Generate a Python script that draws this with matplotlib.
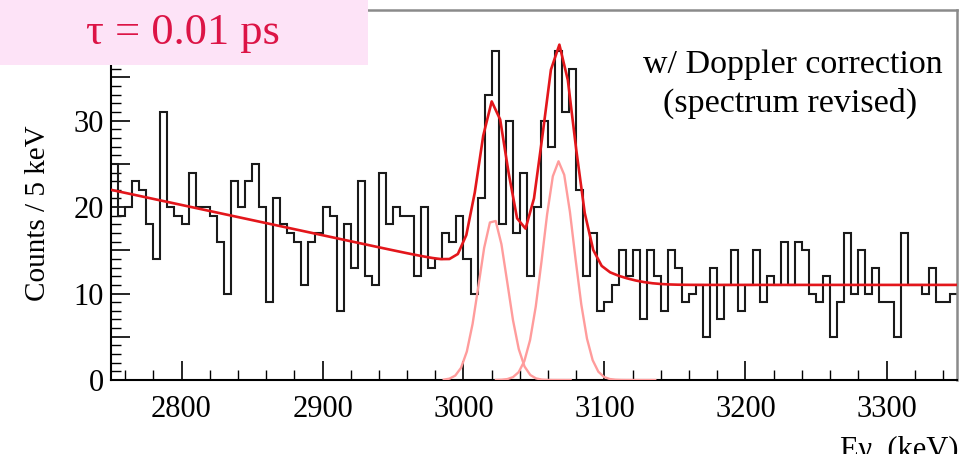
import math
import numpy as np
import matplotlib
matplotlib.use("Agg")
import matplotlib.pyplot as plt
from matplotlib.patches import Rectangle
from matplotlib.ticker import MultipleLocator, FuncFormatter

plt.rcParams['font.family'] = ['Liberation Serif', 'DejaVu Serif']

# ---------------- data ----------------
bin_low = 2750.0
bin_width = 5.0
counts = [25, 19, 20, 23, 22, 18, 14, 31, 20, 19,
          18, 24, 20, 20, 19, 16, 10, 23, 20, 23,
          25, 20, 9, 21, 18, 17, 16, 11, 16, 17,
          20, 19, 8, 18, 13, 23, 12, 11, 24, 18,
          20, 19, 19, 12, 20, 13, 14, 17, 16, 19,
          14, 10, 21, 33, 38, 18, 30, 17, 24, 12,
          20, 30, 27, 38, 31, 36, 22, 12, 17, 8,
          9, 11, 15, 12, 15, 7, 15, 12, 8, 15,
          13, 9, 10, 11, 5, 13, 7, 11, 15, 8,
          11, 15, 9, 12, 11, 16, 11, 16, 15,
          10, 9, 12, 5, 9, 17, 10, 15, 10, 13,
          9, 9, 5, 17, 11, 11, 10, 13, 9, 9, 10]

# fit parameters (two peaks on a stepped, sloping background)
peak_centers = [3021.0, 3067.5]
peak_heights = [18.7, 25.3]
peak_sigmas = [10.0, 11.0]
peak_ranges = [(2986.0, 3076.0), (3023.0, 3136.0)]

bg_flat = 11.0
bg_step = 2.6
bg_step_center = 3105.0
bg_step_width = 20.0
bg_slope = 0.035
bg_slope_end = 2990.0
fit_range = (2750.0, 3350.0)
fit_npx = 100

x_range = (2750, 3350)
y_range = (0, 42.8)
x_major, x_minor = 100, 20
y_major, y_minor = 5, 1
y_labels = [0, 10, 20, 30]

# ---------------- model ----------------
_erf = np.vectorize(math.erf)


def gauss(E, c, h, s):
    return h * np.exp(-0.5 * ((E - c) / s) ** 2)


def background(E):
    step = bg_step * 0.5 * (1 - _erf((E - bg_step_center) / (bg_step_width * math.sqrt(2))))
    slope = bg_slope * 10.0 * np.log1p(np.exp((bg_slope_end - E) / 10.0))
    return bg_flat + step + slope


def total(E):
    y = background(E)
    for c, h, s in zip(peak_centers, peak_heights, peak_sigmas):
        y = y + gauss(E, c, h, s)
    return y


# ---------------- figure ----------------
W, H = 960, 454
fig = plt.figure(figsize=(W / 100, H / 100), dpi=100)
ax = fig.add_axes([111 / W, 1 - 380 / H, (957 - 111) / W, (380 - 10) / H])

edges = bin_low + bin_width * np.arange(len(counts) + 1)
ax.stairs(counts, edges, baseline=None, color='#1a1a1a', lw=1.5, zorder=2)

for (lo, hi), c, h, s in zip(peak_ranges, peak_centers, peak_heights, peak_sigmas):
    Ep = np.linspace(lo, hi, int((hi - lo) / 4) + 1)
    ax.plot(Ep, gauss(Ep, c, h, s), color='#ff9c9c', lw=1.7, zorder=3)

Ef = np.linspace(fit_range[0], fit_range[1], fit_npx + 1)
ax.plot(Ef, total(Ef), color='#e3161b', lw=1.9, zorder=4)

ax.set_xlim(*x_range)
ax.set_ylim(*y_range)
ax.xaxis.set_major_locator(MultipleLocator(x_major))
ax.xaxis.set_minor_locator(MultipleLocator(x_minor))
ax.yaxis.set_major_locator(MultipleLocator(y_major))
ax.yaxis.set_minor_locator(MultipleLocator(y_minor))
ax.yaxis.set_major_formatter(FuncFormatter(
    lambda v, p: f"{int(round(v))}" if int(round(v)) in y_labels else ""))
ax.tick_params(which='both', direction='in', top=False, right=False, colors='black')
ax.tick_params(which='major', length=14, width=1.2, labelsize=22)
ax.tick_params(which='minor', length=7, width=1.0)
ax.tick_params(axis='x', which='major', pad=11)
ax.tick_params(axis='y', which='major', pad=5)

for side in ['left', 'bottom']:
    ax.spines[side].set_color('black')
    ax.spines[side].set_linewidth(1.5)
for side in ['top', 'right']:
    ax.spines[side].set_color('#8a8a8a')
    ax.spines[side].set_linewidth(1.8)

fig.text(38 / W, 1 - 213 / H, "Counts / 5 keV", rotation=90, ha='center', va='center', fontsize=21)
fig.text(0.826, 1 - 65 / H, "w/ Doppler correction", ha='center', va='center', fontsize=24.5)
fig.text(0.823, 1 - 103 / H, "(spectrum revised)", ha='center', va='center', fontsize=24.5)
fig.text(0.998, 1 - 436 / H, "Eγ  (keV)", ha='right', va='top', fontsize=22)

fig.patches.append(Rectangle((0, 1 - 65 / H), 368 / W, 65 / H, transform=fig.transFigure,
                             facecolor='#fde3f7', edgecolor='none', zorder=5))
fig.text(183 / W, 1 - 33 / H, "τ = 0.01 ps", ha='center', va='center', fontsize=32,
         color='#dc1446', zorder=6)

fig.savefig("out.png", dpi=100)
